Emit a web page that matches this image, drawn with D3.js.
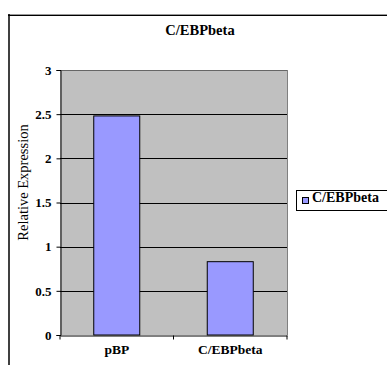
<!DOCTYPE html>
<html>
<head>
<meta charset="utf-8">
<script src="https://cdn.jsdelivr.net/npm/d3@7"></script>
<style>
  html, body { margin: 0; padding: 0; background: #fff; }
  svg { display: block; }
  svg text { font-family: "Liberation Serif", "Times New Roman", serif !important; }
</style>
</head>
<body>
<svg id="chart" width="387" height="365"></svg>
<script>
// Relative expression of C/EBPbeta per construct
const categories = ["pBP", "C/EBPbeta"];
const values = [2.48, 0.83];
const yTicks = [0, 0.5, 1, 1.5, 2, 2.5, 3];
const seriesName = "C/EBPbeta";
const chartTitle = "C/EBPbeta";
const yLabel = "Relative Expression";

const serif = "'Liberation Serif', 'Times New Roman', serif";
const svg = d3.select("#chart");

// chart frame (top and left edges visible)
svg.append("line").attr("x1", 8).attr("x2", 387).attr("y1", 14.5).attr("y2", 14.5)
  .attr("stroke", "#999").attr("stroke-width", 1);
svg.append("line").attr("x1", 8).attr("x2", 387).attr("y1", 15.5).attr("y2", 15.5)
  .attr("stroke", "#000").attr("stroke-width", 1.2);
svg.append("line").attr("x1", 9).attr("x2", 9).attr("y1", 14).attr("y2", 365)
  .attr("stroke", "#000").attr("stroke-width", 1.5);

const plot = { left: 60, right: 287, top: 70, bottom: 335 };

const x = d3.scaleBand().domain(categories).range([plot.left, plot.right]).padding(0);
const y = d3.scaleLinear().domain([0, 3]).range([plot.bottom, plot.top]);

// plot area background
svg.append("rect")
  .attr("x", plot.left).attr("y", plot.top)
  .attr("width", plot.right - plot.left).attr("height", plot.bottom - plot.top)
  .attr("fill", "#c0c0c0");

// right edge of plot area
svg.append("line").attr("x1", plot.right + 0.5).attr("x2", plot.right + 0.5)
  .attr("y1", plot.top).attr("y2", plot.bottom)
  .attr("stroke", "#808080").attr("stroke-width", 1);

// horizontal gridlines
svg.append("g").selectAll("line")
  .data(yTicks.filter(d => d > 0))
  .join("line")
  .attr("x1", plot.left).attr("x2", plot.right)
  .attr("y1", d => Math.round(y(d)) + 0.5).attr("y2", d => Math.round(y(d)) + 0.5)
  .attr("stroke", d => d === 3 ? "#666" : "#000").attr("stroke-width", 1);

// bars
const barW = 46;
svg.append("g").selectAll("rect")
  .data(values)
  .join("rect")
  .attr("x", (d, i) => x(categories[i]) + (x.bandwidth() - barW) / 2)
  .attr("y", d => y(d))
  .attr("width", barW)
  .attr("height", d => y(0) - y(d))
  .attr("fill", "#9999ff")
  .attr("stroke", "#000").attr("stroke-width", 1);

// y axis
const yAxis = svg.append("g")
  .attr("transform", `translate(${plot.left + 0.5},0)`)
  .call(d3.axisLeft(y).tickValues(yTicks).tickSize(4).tickPadding(5)
    .tickFormat(d3.format("")));
yAxis.attr("font-family", null);
yAxis.select(".domain").attr("stroke", "#000");
yAxis.selectAll(".tick line").attr("stroke", "#000");
yAxis.selectAll(".tick text")
  .style("font-family", serif)
  .style("font-size", "13px").style("font-weight", "bold").attr("fill", "#000");

// x axis
const xAxis = svg.append("g")
  .attr("transform", `translate(0,${plot.bottom + 0.5})`)
  .call(d3.axisBottom(x).tickSize(0).tickPadding(9));
xAxis.attr("font-family", null);
xAxis.select(".domain").attr("stroke", "#000");
xAxis.selectAll(".tick text")
  .style("font-family", serif)
  .style("font-size", "13.5px").style("font-weight", "bold").attr("fill", "#000");
// category boundary ticks
xAxis.selectAll(".boundary")
  .data([plot.left, (plot.left + plot.right) / 2, plot.right])
  .join("line")
  .attr("x1", d => d).attr("x2", d => d)
  .attr("y1", 0).attr("y2", 4)
  .attr("stroke", "#000");

// title
svg.append("text")
  .attr("x", 200).attr("y", 34.5)
  .attr("text-anchor", "middle")
  .style("font-family", serif)
  .style("font-size", "14.5px").style("font-weight", "bold")
  .text(chartTitle);

// y axis label
svg.append("text")
  .attr("transform", `translate(28,182.5) rotate(-90)`)
  .attr("text-anchor", "middle")
  .style("font-family", serif)
  .style("font-size", "14.5px")
  .text(yLabel);

// legend
const legend = svg.append("g");
legend.append("rect")
  .attr("x", 296.5).attr("y", 190.5).attr("width", 92).attr("height", 20)
  .attr("fill", "#fff").attr("stroke", "#000").attr("stroke-width", 1);
legend.append("rect")
  .attr("x", 302.5).attr("y", 197.5).attr("width", 6).attr("height", 6)
  .attr("fill", "#9999ff").attr("stroke", "#000").attr("stroke-width", 1);
legend.append("text")
  .attr("x", 312).attr("y", 202)
  .style("font-family", serif)
  .style("font-size", "14px").style("font-weight", "bold")
  .text(seriesName);
</script>
</body>
</html>
